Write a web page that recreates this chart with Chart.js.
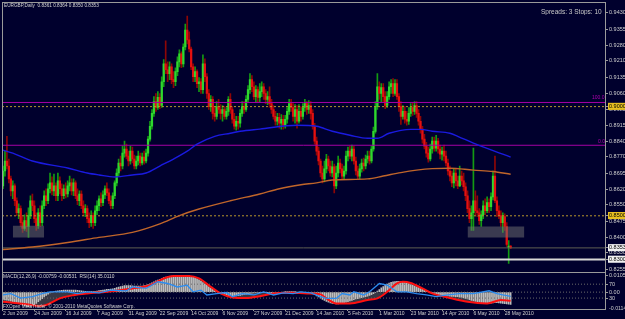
<!DOCTYPE html>
<html><head><meta charset="utf-8">
<script src="https://cdn.jsdelivr.net/npm/chart.js@4.4.1/dist/chart.umd.min.js"></script>
<style>
html,body{margin:0;padding:0;background:#00002d;}
#wrap{position:relative;width:625px;height:319px;overflow:hidden;background:#00002d;}
canvas{position:absolute;left:0;top:0;}
.f{position:absolute;border:1px solid #9a9a9a;box-sizing:border-box;pointer-events:none;}
.t{position:absolute;white-space:nowrap;font-family:'Liberation Sans',Arial,sans-serif;line-height:1;color:#d4d4d4;transform:scale(0.5);transform-origin:0 0;}
</style></head><body>
<div id="wrap">
<canvas id="c" width="625" height="319"></canvas>
<div class="f" style="left:2px;top:2px;width:604px;height:271px"></div>
<div class="f" style="left:2px;top:272px;width:604px;height:38px"></div>
<div class="t" style="left:4px;top:2.5px;font-size:9.4px">EURGBP,Daily&nbsp; 0.8361 0.8364 0.8350 0.8353</div>
<div class="t" style="left:541px;top:7.5px;font-size:13px;color:#c8c8c8">Spreads: 3 Stops: 10</div>
<div class="t" style="left:592px;top:95px;font-size:10px;color:#b000b0">100.0</div>
<div class="t" style="left:598px;top:139px;font-size:10px;color:#b000b0">0.0</div>
<div class="t" style="left:3px;top:273.5px;font-size:9.6px">MACD(12,26,9) -0.00759 -0.00531&nbsp; RSI(14) 35.0110</div>
<div class="t" style="left:3px;top:303.5px;font-size:9.4px">FXOpen MetaTrader, © 2001-2010 MetaQuotes Software Corp.</div>
<div class="t" style="left:609px;top:304.5px;font-size:10.5px;color:#c8c8c8">-0.01146</div>
</div>
<script>
// ---------- data ----------
const dateLabels = ['2 Jun 2009','24 Jun 2009','16 Jul 2009','7 Aug 2009','31 Aug 2009','22 Sep 2009','14 Oct 2009','6 Nov 2009','27 Nov 2009','21 Dec 2009','14 Jan 2010','5 Feb 2010','1 Mar 2010','23 Mar 2010','14 Apr 2010','6 May 2010','28 May 2010'];
const dateBarIndex = [0,16,32,48,64,80,96,112,128,144,160,176,192,208,224,240,256];

// prices in 1/10000 (pips)
const openP = [8637,8705,8751,8728,8669,8614,8637,8569,8514,8533,
8469,8442,8478,8451,8501,8569,8546,8487,8455,8514,
8469,8546,8592,8569,8624,8651,8614,8637,8592,8660,
8624,8592,8624,8600,8637,8651,8614,8651,8592,8569,
8600,8546,8514,8533,8487,8469,8501,8469,8523,8546,
8578,8560,8596,8624,8605,8569,8546,8592,8651,8696,
8742,8728,8787,8806,8773,8751,8796,8760,8728,8751,
8773,8742,8769,8751,8787,8851,8910,8969,9023,8996,
9042,9005,9114,9196,9169,9151,9182,9124,9114,9160,
9205,9242,9196,9273,9351,9306,9264,9182,9137,9160,
9105,9114,9078,9196,9137,9060,9000,9033,8969,8955,
9000,8987,8969,8987,8955,8978,9033,8987,8942,8910,
8933,8924,8969,9000,8987,9033,9078,9124,9091,9046,
9078,9042,9069,9091,9060,9033,9046,9014,8987,8955,
8933,8951,8924,8942,8915,8942,8978,9014,8996,8955,
8987,8933,8978,8955,8996,9014,8987,9005,8969,8910,
8842,8796,8751,8696,8669,8715,8760,8728,8696,8724,
8637,8696,8742,8715,8682,8705,8773,8796,8773,8806,
8751,8705,8682,8715,8742,8728,8760,8773,8751,8806,
8887,9000,9091,9060,9087,9046,9005,9046,9091,9105,
9060,9105,9046,9000,8955,8978,8942,8933,8969,8996,
8978,9005,8969,8933,8897,8851,8819,8787,8760,8806,
8842,8810,8842,8806,8782,8796,8773,8742,8705,8682,
8651,8696,8660,8637,8682,8660,8633,8592,8533,8487,
8514,8569,8523,8514,8478,8505,8546,8523,8560,8542,
8587,8682,8569,8523,8501,8469,8496,8451,8355,8361];
const highP = [8728,8796,8864,8760,8682,8660,8646,8582,8555,8546,
8496,8505,8514,8537,8592,8600,8569,8514,8533,8546,
8569,8614,8624,8646,8696,8678,8691,8651,8696,8678,
8646,8642,8651,8660,8682,8669,8669,8660,8624,8614,
8614,8569,8551,8546,8514,8523,8514,8546,8569,8592,
8605,8614,8637,8651,8624,8592,8605,8660,8715,8760,
8773,8819,8842,8828,8796,8819,8815,8778,8773,8796,
8787,8787,8796,8806,8864,8933,8987,9046,9060,9069,
9060,9137,9215,9301,9205,9205,9196,9160,9178,9228,
9260,9251,9287,9378,9415,9342,9273,9196,9182,9169,
9133,9128,9237,9219,9151,9078,9051,9046,9000,9023,
9033,9009,9005,9000,8996,9046,9060,9000,8969,8955,
8955,8987,9023,9023,9051,9096,9151,9142,9114,9096,
9091,9105,9114,9105,9078,9069,9091,9033,9005,8978,
8969,8969,8964,8960,8960,8996,9033,9033,9014,9009,
9005,9009,9000,9014,9033,9023,9028,9023,8987,8924,
8860,8815,8760,8728,8751,8782,8773,8751,8751,8737,
8728,8773,8760,8737,8728,8796,8815,8819,8824,8819,
8769,8728,8737,8760,8764,8778,8796,8796,8819,8906,
9023,9151,9114,9105,9105,9069,9069,9114,9124,9128,
9124,9124,9060,9023,9005,9000,8978,8996,9014,9018,
9023,9023,8987,8955,8910,8873,8837,8815,8828,8860,
8860,8869,8855,8824,8815,8824,8796,8760,8728,8705,
8715,8715,8682,8728,8705,8696,8651,8614,8569,8546,
8810,8614,8592,8533,8523,8569,8578,8587,8578,8605,
8705,8773,8587,8546,8523,8514,8509,8469,8387,8364];
const lowP = [8624,8682,8715,8651,8591,8578,8546,8501,8487,8451,
8424,8433,8428,8401,8487,8523,8469,8433,8442,8451,
8455,8533,8546,8555,8605,8596,8592,8569,8569,8600,
8569,8578,8582,8587,8614,8596,8592,8578,8551,8546,
8533,8501,8496,8469,8446,8451,8442,8455,8505,8523,
8542,8546,8578,8592,8555,8533,8533,8578,8637,8682,
8705,8715,8769,8760,8728,8737,8742,8715,8715,8733,
8728,8733,8737,8742,8773,8842,8897,8955,8978,8987,
8991,8996,9091,9151,9114,9124,9105,9087,9096,9142,
9182,9178,9182,9260,9287,9251,9169,9114,9114,9087,
9069,9060,9060,9114,9037,8987,8978,8942,8933,8942,
8969,8942,8933,8942,8942,8960,8969,8924,8897,8892,
8897,8906,8955,8969,8978,9023,9060,9069,9033,9023,
9023,9023,9046,9033,9014,9009,8996,8969,8942,8915,
8915,8901,8897,8897,8901,8924,8964,8978,8933,8924,
8901,8924,8933,8942,8978,8964,8969,8942,8897,8828,
8778,8733,8678,8651,8655,8696,8705,8682,8678,8605,
8624,8678,8696,8669,8669,8691,8751,8760,8751,8737,
8687,8669,8669,8700,8705,8715,8742,8737,8742,8796,
8878,8987,9033,9023,9023,8991,8996,9033,9060,9046,
9051,9033,8978,8919,8942,8924,8915,8919,8955,8960,
8964,8951,8915,8878,8833,8806,8769,8746,8751,8787,
8796,8796,8787,8760,8755,8751,8728,8687,8660,8633,
8628,8637,8624,8633,8642,8614,8569,8514,8469,8433,
8433,8505,8496,8460,8451,8487,8505,8514,8514,8523,
8573,8560,8496,8487,8451,8424,8433,8360,8282,8350];
const closeP = [8705,8751,8728,8669,8614,8637,8569,8514,8533,8469,
8442,8478,8451,8501,8569,8546,8487,8455,8514,8469,
8546,8592,8569,8624,8651,8614,8637,8592,8660,8624,
8592,8624,8600,8637,8651,8614,8651,8592,8569,8600,
8546,8514,8533,8487,8469,8501,8469,8523,8546,8578,
8560,8596,8624,8605,8569,8546,8592,8651,8696,8742,
8728,8787,8806,8773,8751,8796,8760,8728,8751,8773,
8742,8769,8751,8787,8851,8910,8969,9023,8996,9042,
9005,9114,9196,9169,9151,9182,9124,9114,9160,9205,
9242,9196,9273,9351,9306,9264,9182,9137,9160,9105,
9114,9078,9196,9137,9060,9000,9033,8969,8955,9000,
8987,8969,8987,8955,8978,9033,8987,8942,8910,8933,
8924,8969,9000,8987,9033,9078,9124,9091,9046,9078,
9042,9069,9091,9060,9033,9046,9014,8987,8955,8933,
8951,8924,8942,8915,8942,8978,9014,8996,8955,8987,
8933,8978,8955,8996,9014,8987,9005,8969,8910,8842,
8796,8751,8696,8669,8715,8760,8728,8696,8724,8637,
8696,8742,8715,8682,8705,8773,8796,8773,8806,8751,
8705,8682,8715,8742,8728,8760,8773,8751,8806,8887,
9000,9091,9060,9087,9046,9005,9046,9091,9105,9060,
9105,9046,9000,8955,8978,8942,8933,8969,8996,8978,
9005,8969,8933,8897,8851,8819,8787,8760,8806,8842,
8810,8842,8806,8782,8796,8773,8742,8705,8682,8651,
8696,8660,8637,8682,8660,8633,8592,8533,8487,8514,
8569,8523,8514,8478,8505,8546,8523,8560,8542,8587,
8682,8569,8523,8501,8469,8496,8451,8369,8361,8353];

// moving averages (bar index, price)
const maBlueIdx = [0,5,15,33,43,49,57,66,73,80,87,94,99,108,116,121,131,150,160,168,177,186,191,197,208,213,219,228,232,240,248,259];
const maBlueVal = [0.8801,0.8787,0.8751,0.8719,0.8696,0.8687,0.8678,0.8687,0.8696,0.8728,0.8760,0.8796,0.8828,0.8864,0.8878,0.8887,0.8897,0.8915,0.8910,0.8887,0.8869,0.8855,0.8855,0.8878,0.8896,0.8896,0.8887,0.8878,0.8864,0.8833,0.8805,0.8769];
const maOrangeIdx = [0,15,33,49,66,80,90,100,116,131,141,152,160,168,186,194,203,211,219,228,240,250,259];
const maOrangeVal = [0.8346,0.8357,0.8378,0.8401,0.8424,0.8463,0.8501,0.8531,0.8569,0.8600,0.8624,0.8642,0.8651,0.8664,0.8669,0.8682,0.8698,0.8709,0.8716,0.8718,0.8709,0.8703,0.8690];

// horizontal objects
const fiboLevels = [0.9019, 0.8823];
const supportLevels = [0.9000, 0.8500];
const bidPrice = 0.8353;
const hLineLevel = 0.8300;
const zoneStart = [5, 237], zoneEnd = [21, 266], zoneTop = [0.8455, 0.8451], zoneBottom = [0.8401, 0.8401];

// price axis tick labels
const priceTicks = [0.9430,0.9355,0.9280,0.9210,0.9135,0.9060,0.8985,0.8915,0.8840,0.8770,0.8695,0.8620,0.8550,0.8475,0.8400,0.8330,0.8255];
const priceMarks = [0.9000, 0.8500, 0.8353, 0.8300];

// indicators (MACD in 1/10000)
const macdMain = [-45,-48,-50,-52,-56,-60,-64,-68,-72,-76,
-80,-84,-88,-90,-88,-84,-78,-70,-60,-50,
-40,-30,-20,-12,-5,0,3,6,8,10,
11,12,12,12,13,13,12,12,11,10,
8,6,5,4,3,3,4,5,7,9,
11,13,15,17,18,19,21,24,28,32,
35,38,40,41,41,40,39,38,37,37,
37,38,40,43,47,52,58,64,70,75,
80,85,90,94,96,98,100,102,103,104,
105,105,105,105,104,102,99,95,90,84,
77,69,60,51,42,33,25,17,10,4,
-2,-8,-13,-17,-20,-22,-23,-24,-24,-23,
-22,-20,-18,-15,-12,-10,-8,-6,-5,-4,
-3,-2,-2,-1,-1,-1,-2,-2,-3,-3,
-3,-2,-1,0,1,2,2,2,1,1,
0,0,0,-1,-1,-2,-3,-5,-10,-16,
-23,-30,-38,-45,-52,-58,-63,-67,-70,-72,
-73,-73,-72,-70,-67,-63,-59,-55,-51,-47,
-43,-40,-37,-34,-31,-28,-25,-21,-16,-10,
-3,6,16,26,35,43,50,56,61,64,
66,67,67,66,64,61,57,53,48,43,
38,33,28,23,18,13,8,3,-2,-6,
-10,-13,-16,-18,-20,-22,-23,-24,-25,-26,
-27,-28,-29,-31,-33,-36,-39,-43,-47,-51,
-55,-58,-61,-63,-65,-66,-67,-68,-68,-68,
-67,-66,-66,-67,-68,-70,-72,-74,-75,-76];
const signalIdx = [0,5,12,19,22,29,36,43,53,66,75,82,87,95,100,106,111,117,124,131,138,146,155,162,165,170,177,186,191,196,201,204,208,214,219,227,237,247,254,259];
const signalVal = [-60,-66,-76,-86,-80,-39,-19,-8,2,23,43,85,101,101,85,33,-8,-33,-37,-25,-8,-4,-8,-14,-39,-70,-70,-49,-39,2,54,64,57,23,-8,-33,-60,-70,-49,-53];
const rsiIdx = [0,4,9,15,20,24,33,38,43,49,55,63,66,73,79,84,89,94,97,101,104,109,114,117,122,128,133,138,143,148,152,157,162,165,170,173,177,179,184,187,192,196,201,206,211,216,221,227,233,240,248,252,255,259];
const rsiVal = [39,43,30,34,43,48,48,43,48,45,53,51,62,58,77,72,62,67,48,53,39,43,46,34,43,39,48,39,45,43,48,45,34,29,29,43,39,48,39,48,72,67,48,48,43,39,34,39,43,43,51,43,39,35];
const rsiLevels = [70, 30];
const macdTicks = [0.0105, 0];

// ---------- chart ----------
const X_MIN = -0.51, X_MAX = 307.14;
const FONT = "'Liberation Sans', Arial, sans-serif";
Chart.defaults.font.family = FONT;

const up = i => closeP[i] >= openP[i];
const hline = (lvl, color, width, dash, axis, order) => ({
  type: 'line', yAxisID: axis, order,
  data: [{x: X_MIN, y: lvl}, {x: X_MAX, y: lvl}],
  borderColor: color, borderWidth: width, borderDash: dash, pointRadius: 0, fill: false
});
const pts = (idx, val, k) => idx.map((x, j) => ({x, y: val[j] * k}));

const datasets = [];
datasets.push({
  type: 'bar', yAxisID: 'y', order: 30, grouped: false, barThickness: 1, minBarLength: 1,
  data: closeP.map((c, i) => ({x: i, y: [lowP[i] / 1e4, highP[i] / 1e4]})),
  backgroundColor: ctx => up(ctx.dataIndex) ? '#139a13' : '#8e0606', borderWidth: 0
});
datasets.push({
  type: 'bar', yAxisID: 'y', order: 29, grouped: false, barThickness: 1.6, minBarLength: 1,
  data: closeP.map((c, i) => ({x: i, y: [openP[i] / 1e4, c / 1e4]})),
  backgroundColor: ctx => up(ctx.dataIndex) ? '#2fd82f' : '#e41010', borderWidth: 0
});
zoneStart.forEach((s, k) => {
  datasets.push({type: 'line', yAxisID: 'y', order: 25, data: [{x: s, y: zoneTop[k]}, {x: zoneEnd[k], y: zoneTop[k]}],
    borderWidth: 0, pointRadius: 0, fill: '+1', backgroundColor: 'rgba(115,115,115,0.5)'});
  datasets.push({type: 'line', yAxisID: 'y', order: 25, data: [{x: s, y: zoneBottom[k]}, {x: zoneEnd[k], y: zoneBottom[k]}],
    borderWidth: 0, pointRadius: 0, fill: false});
});
fiboLevels.forEach(l => datasets.push(hline(l, '#a400a4', 1, [], 'y', 12)));
supportLevels.forEach(l => datasets.push(hline(l, '#b8962c', 1, [2, 2], 'y', 12)));
datasets.push(hline(bidPrice, '#5e5e52', 1, [], 'y', 12));
datasets.push(hline(hLineLevel, '#d6d6d6', 2, [], 'y', 12));
datasets.push({type: 'line', yAxisID: 'y', order: 8, data: pts(maBlueIdx, maBlueVal, 1),
  borderColor: '#1a1ae0', borderWidth: 1.4, pointRadius: 0, cubicInterpolationMode: 'monotone', fill: false});
datasets.push({type: 'line', yAxisID: 'y', order: 8, data: pts(maOrangeIdx, maOrangeVal, 1),
  borderColor: '#c0652a', borderWidth: 1.4, pointRadius: 0, cubicInterpolationMode: 'monotone', fill: false});
datasets.push({type: 'line', yAxisID: 'y3', order: 22, data: pts(signalIdx, signalVal, 1e-4),
  borderWidth: 0, pointRadius: 0, cubicInterpolationMode: 'monotone', fill: 'origin', backgroundColor: 'rgba(80,80,80,0.7)'});
datasets.push({type: 'bar', yAxisID: 'y3', order: 20, grouped: false, barThickness: 1,
  data: macdMain.map((v, i) => ({x: i, y: v / 1e4})), backgroundColor: '#bdbdbd', borderWidth: 0});
rsiLevels.forEach(l => datasets.push(hline(l, '#6a6a6a', 1, [1, 2], 'y2', 15)));
datasets.push(hline(0, '#6a6a6a', 1, [1, 2], 'y3', 15));
datasets.push({type: 'line', yAxisID: 'y3', order: 5, data: pts(signalIdx, signalVal, 1e-4),
  borderColor: '#ff1010', borderWidth: 2, pointRadius: 0, cubicInterpolationMode: 'monotone', fill: false});
datasets.push({type: 'line', yAxisID: 'y2', order: 4, data: pts(rsiIdx, rsiVal, 1),
  borderColor: '#2b8cf0', borderWidth: 1.3, pointRadius: 0, tension: 0, fill: false});

const allPriceTicks = priceTicks.concat(priceMarks);
const nReg = priceTicks.length;
const markBg = ['#e8c020', '#e8c020', '#f0f0f0', '#f0f0f0'];
const axisGrid = {display: true, drawOnChartArea: false, drawTicks: true, tickLength: 3, color: '#9a9a9a'};
const TICK_FONT = 5.5;
// mirrored labels on zero-width overlay axes: offset = widest label + gap so text starts like the price labels
const overlayPad = labels => {
  const ctx = document.createElement('canvas').getContext('2d');
  ctx.font = TICK_FONT + 'px ' + FONT;
  return Math.max(...labels.map(l => ctx.measureText(l).width)) + 4;
};
const rsiLabels = rsiLevels.map(v => String(v));
const macdLabels = macdTicks.map(v => v === 0 ? '0.00' : v.toFixed(4));
const overlayFit = s => { s.width = 0; s.paddingTop = 0; s.paddingBottom = 0; s.paddingLeft = 0; s.paddingRight = 0; };

new Chart(document.getElementById('c'), {
  type: 'bar',
  data: {datasets},
  options: {
    responsive: false, animation: false, devicePixelRatio: 1,
    layout: {padding: {left: 2, top: 2, right: 0, bottom: 0}},
    plugins: {legend: {display: false}, tooltip: {enabled: false}},
    scales: {
      x: {
        type: 'linear', position: 'bottom', min: X_MIN, max: X_MAX, offset: false,
        afterBuildTicks: s => { s.ticks = dateBarIndex.map(v => ({value: v})); },
        afterFit: s => { s.height = 10; },
        grid: {display: true, drawOnChartArea: false, offset: false, tickLength: 2, color: '#9a9a9a'},
        border: {display: false},
        ticks: {autoSkip: false, maxRotation: 0, minRotation: 0, align: 'start', padding: 0,
          font: {size: 5}, color: '#cfcfcf', callback: (v, i) => dateLabels[i]}
      },
      y: {
        type: 'linear', position: 'right', weight: 2, min: 0.80732, max: 0.94686,
        afterBuildTicks: s => { s.ticks = allPriceTicks.map(v => ({value: v})); },
        afterFit: s => { s.width = 20; },
        grid: axisGrid, border: {display: false},
        ticks: {autoSkip: false, padding: 1, font: {size: TICK_FONT},
          color: c => c.index >= nReg ? '#000000' : '#cfcfcf',
          showLabelBackdrop: c => c.index >= nReg,
          backdropColor: c => c.index >= nReg ? markBg[c.index - nReg] : 'rgba(0,0,0,0)',
          backdropPadding: {top: 0.5, bottom: 0, left: 1, right: 3},
          callback: (v, i) => allPriceTicks[i].toFixed(4)}
      },
      y2: {
        type: 'linear', position: 'right', weight: 0, min: -1.43, max: 875.71,
        afterBuildTicks: s => { s.ticks = rsiLevels.map(v => ({value: v})); },
        afterFit: overlayFit,
        grid: axisGrid, border: {display: false},
        ticks: {autoSkip: false, mirror: true, crossAlign: 'far', padding: overlayPad(rsiLabels),
          font: {size: TICK_FONT}, color: '#cfcfcf', callback: (v, i) => rsiLabels[i]}
      },
      y3: {
        type: 'linear', position: 'right', weight: 1, min: -0.0105, max: 0.17912,
        afterBuildTicks: s => { s.ticks = macdTicks.map(v => ({value: v})); },
        afterFit: overlayFit,
        grid: axisGrid, border: {display: false},
        ticks: {autoSkip: false, mirror: true, crossAlign: 'far', padding: overlayPad(macdLabels),
          font: {size: TICK_FONT}, color: '#cfcfcf', callback: (v, i) => macdLabels[i]}
      }
    }
  }
});
</script>
</body></html>
